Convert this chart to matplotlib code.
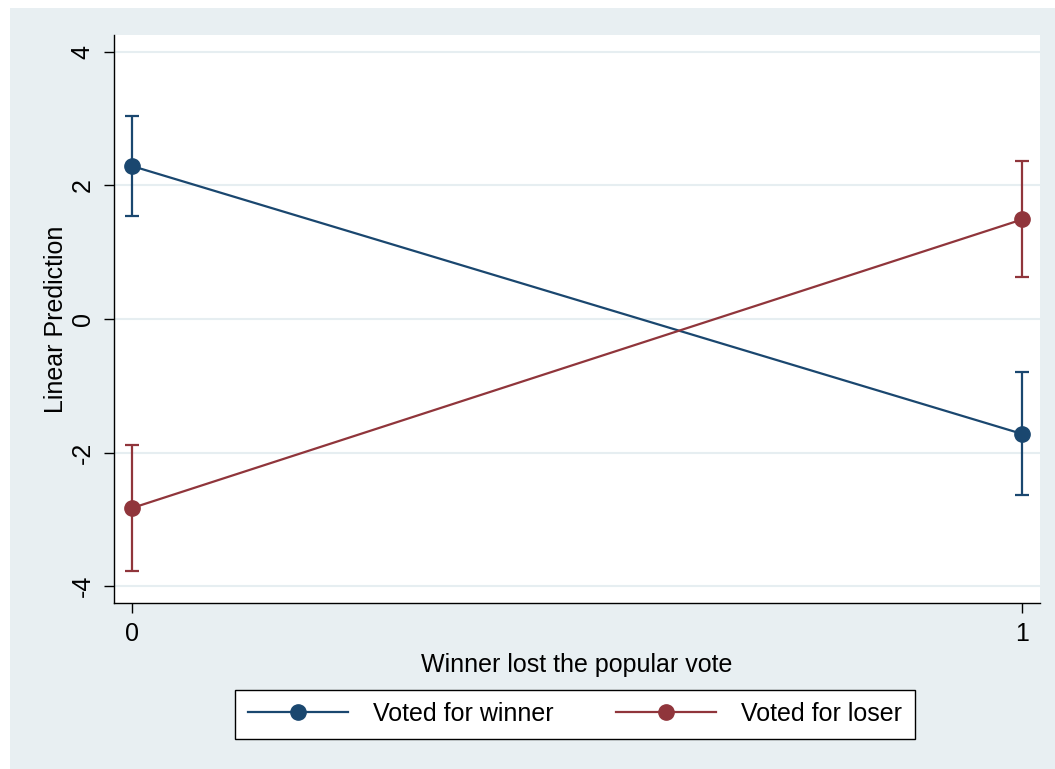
import matplotlib.pyplot as plt
from matplotlib.patches import Rectangle

plt.rcParams['font.family'] = ['Liberation Sans', 'DejaVu Sans']

# Data
x_vals = [0, 1]
x_labels = ['0', '1']
winner = [2.29, -1.72]
winner_lo = [1.54, -2.64]
winner_hi = [3.04, -0.80]
loser = [-2.83, 1.49]
loser_lo = [-3.77, 0.63]
loser_hi = [-1.89, 2.36]
y_ticks = [-4, -2, 0, 2, 4]

navy = '#1a476f'
maroon = '#90353b'
bg = '#e8eff2'

fig = plt.figure(figsize=(10.55, 7.69), dpi=100)
fig.patch.set_facecolor('white')
# graph region (light blue-grey) with white screenshot margin on top/left
fig.patches.append(Rectangle((10 / 1055, 0), 1 - 10 / 1055, 1 - 8 / 769,
                             transform=fig.transFigure, facecolor=bg,
                             edgecolor='none', zorder=-10))

ax = fig.add_axes([114 / 1055, 1 - 603 / 769, (1040 - 114) / 1055, (603 - 35) / 769])
ax.set_facecolor('white')

for y, lo, hi, c, lab in [(winner, winner_lo, winner_hi, navy, 'Voted for winner'),
                          (loser, loser_lo, loser_hi, maroon, 'Voted for loser')]:
    err = [[v - l for v, l in zip(y, lo)], [h - v for v, h in zip(y, hi)]]
    ax.errorbar(x_vals, y, yerr=err, fmt='none', ecolor=c, elinewidth=1.6,
                capsize=5, capthick=1.6, zorder=3)
    ax.plot(x_vals, y, color=c, lw=1.6, marker='o', markersize=11,
            label=lab, zorder=4)

ax.set_xlim(-0.02, 1.02)
ax.set_ylim(-4.25, 4.25)
ax.set_xticks(x_vals)
ax.set_xticklabels(x_labels)
ax.set_yticks(y_ticks)
ax.set_yticklabels([str(t) for t in y_ticks], rotation=90, va='center')
ax.grid(axis='y', color='#e6eef1', lw=1.5)
ax.set_axisbelow(True)
for s in ['top', 'right']:
    ax.spines[s].set_visible(False)
for s in ['left', 'bottom']:
    ax.spines[s].set_color('black')
    ax.spines[s].set_linewidth(1.0)
ax.tick_params(direction='out', length=7, width=1, labelsize=18, pad=7)

ax.set_xlabel('Winner lost the popular vote', fontsize=18, labelpad=5)
ax.set_ylabel('Linear Prediction', fontsize=18, labelpad=2)

leg = fig.legend(loc='center', bbox_to_anchor=(575 / 1055, 1 - 714 / 769), ncol=2,
                 fontsize=18, frameon=True, fancybox=False, framealpha=1,
                 facecolor='white', handlelength=4.0,
                 columnspacing=2.5, borderpad=0.5, handletextpad=1.0)
leg.get_frame().set_edgecolor('black')
leg.get_frame().set_linewidth(1.0)

fig.savefig('out.png', dpi=100, facecolor=fig.get_facecolor())
